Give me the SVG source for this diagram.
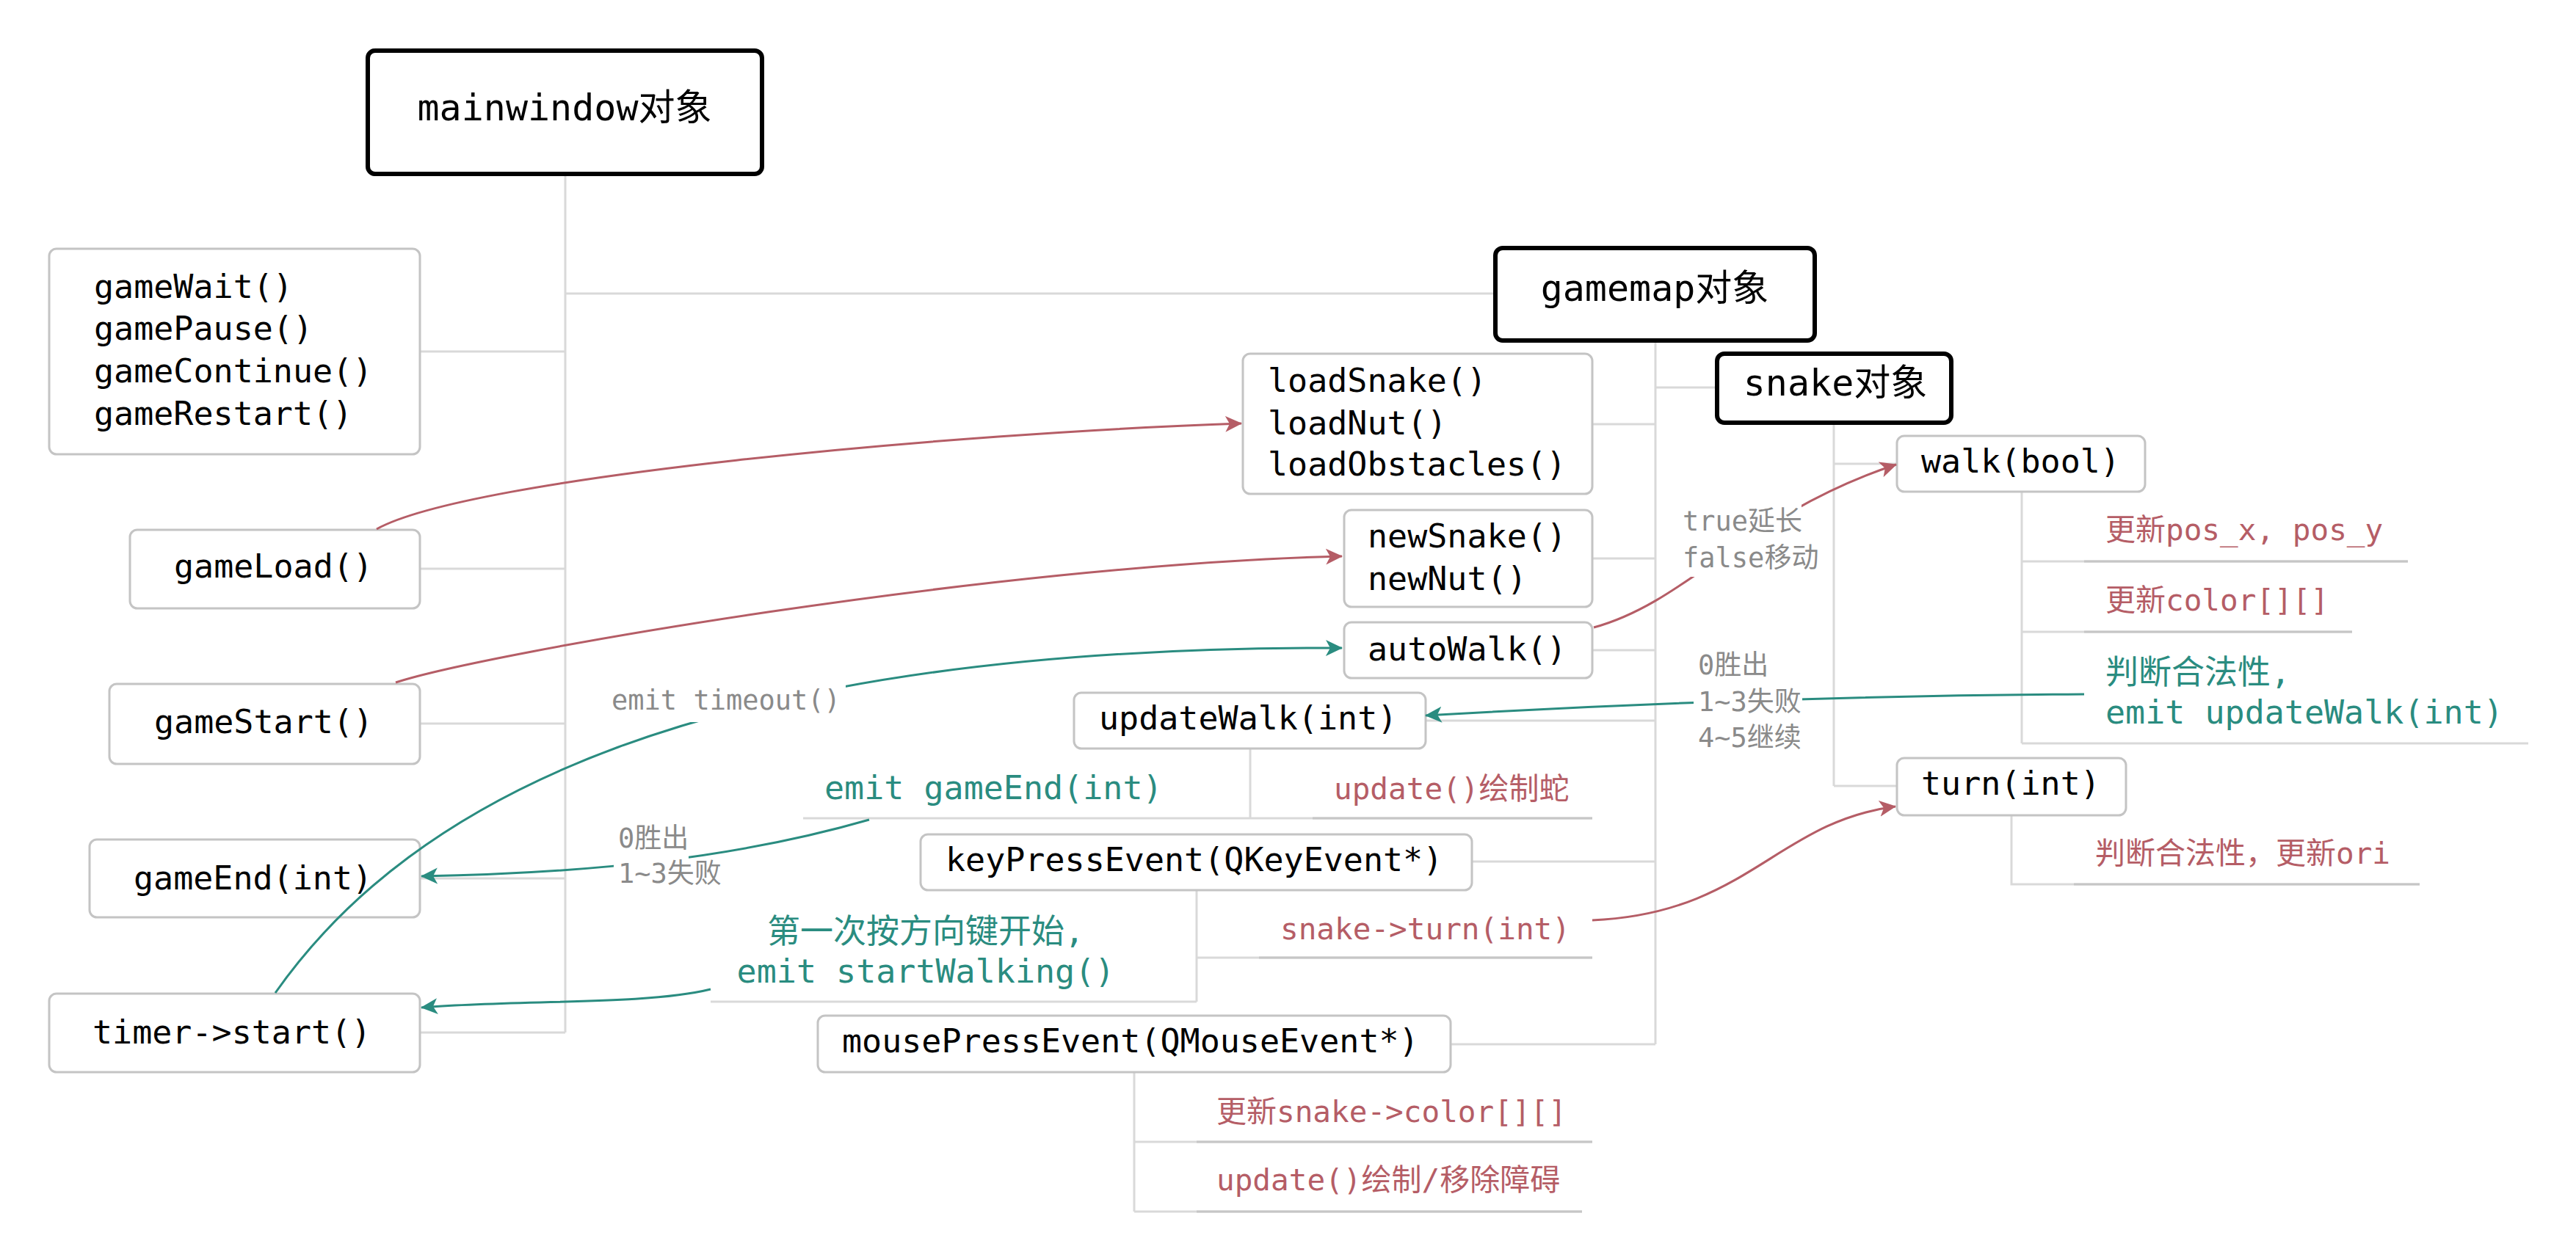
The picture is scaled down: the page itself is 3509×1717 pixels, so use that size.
<svg xmlns="http://www.w3.org/2000/svg" width="3509" height="1717" viewBox="0 0 3509 1717">
<style>
text{font-family:'DejaVu Sans Mono','Noto Sans CJK SC',monospace;}
.n{font-size:45px;fill:#000;}
.big{font-size:50px;fill:#000;}
.box{fill:#fff;stroke:#c4c4c4;stroke-width:3;}
.obox{fill:#fff;stroke:#000;stroke-width:6;}
.tree{fill:none;stroke:#d9d9d9;stroke-width:3;}
.ul{fill:none;stroke:#c6c6c6;stroke-width:3;}
.red{font-size:41px;fill:#b55d66;}
.teal{font-size:45px;fill:#2a8c80;}
.grey{font-size:37px;fill:#8a8a8a;}
.cr{fill:none;stroke:#b55d66;stroke-width:3;}
.ct{fill:none;stroke:#2a8c80;stroke-width:3;}
.bg{fill:#fff;}
</style>
<defs>
<marker id="ar" viewBox="0 0 24 24" refX="22" refY="12" markerWidth="24" markerHeight="24" markerUnits="userSpaceOnUse" orient="auto"><path d="M0,1 L23,12 L0,23 L6,12 Z" fill="#b55d66"/></marker>
<marker id="at" viewBox="0 0 24 24" refX="22" refY="12" markerWidth="24" markerHeight="24" markerUnits="userSpaceOnUse" orient="auto"><path d="M0,1 L23,12 L0,23 L6,12 Z" fill="#2a8c80"/></marker>
</defs>
<rect width="3509" height="1717" fill="#fff"/>

<g id="tree-lines">
<path class="tree" d="M770,237 V1407 M572,479 H770 M572,775 H770 M572,986 H770 M572,1197 H770 M572,1407 H770 M770,400 H2037"/>
<path class="tree" d="M2255,464 V1423 M2169,578 H2255 M2255,528 H2339 M2169,761 H2255 M2169,886 H2255 M1942,982 H2255 M2005,1174 H2255 M1976,1423 H2255"/>
<path class="tree" d="M2498,576 V1071 M2498,632 H2584 M2498,1071 H2584"/>
<path class="tree" d="M2754,670 V1013 M2754,765 H3280 M2754,861 H3204 M2754,1013 H3444"/>
<path class="ul" d="M2839,765 H3280 M2839,861 H3204"/>
<path class="tree" d="M2740,1111 V1205 H3296"/>
<path class="ul" d="M2825,1205 H3296"/>
<path class="tree" d="M1703,1020 V1115 M1094,1115 H2169"/>
<path class="ul" d="M1788,1115 H2169"/>
<path class="tree" d="M1630,1213 V1365 M968,1365 H1630 M1630,1305 H2169"/>
<path class="ul" d="M1715,1305 H2169"/>
<path class="tree" d="M1545,1461 V1651 M1545,1556 H2169 M1545,1651 H2155"/>
<path class="ul" d="M1630,1556 H2169 M1630,1651 H2155"/>
</g>

<g id="mainwindow"><rect class="obox" x="501" y="69" width="537" height="168" rx="10"/><text class="big" x="769" y="164" text-anchor="middle">mainwindow对象</text></g>
<g id="gameWait"><rect class="box" x="67" y="339" width="505" height="280" rx="10"/>
<text class="n" x="128" y="406">gameWait()</text><text class="n" x="128" y="463">gamePause()</text><text class="n" x="128" y="521">gameContinue()</text><text class="n" x="128" y="579">gameRestart()</text></g>
<g id="gameLoad"><rect class="box" x="177" y="722" width="395" height="107" rx="10"/><text class="n" x="237" y="787">gameLoad()</text></g>
<g id="gameStart"><rect class="box" x="149" y="932" width="423" height="109" rx="10"/><text class="n" x="210" y="999">gameStart()</text></g>
<g id="gameEnd"><rect class="box" x="122" y="1144" width="450" height="106" rx="10"/><text class="n" x="182" y="1212">gameEnd(int)</text></g>
<g id="timerStart"><rect class="box" x="67" y="1354" width="505" height="107" rx="10"/><text class="n" x="126" y="1422">timer-&gt;start()</text></g>

<g id="gamemap"><rect class="obox" x="2037" y="338" width="435" height="126" rx="10"/><text class="big" x="2254" y="410" text-anchor="middle">gamemap对象</text></g>
<g id="loadSnake"><rect class="box" x="1693" y="482" width="476" height="191" rx="10"/>
<text class="n" x="1727" y="534">loadSnake()</text><text class="n" x="1727" y="592">loadNut()</text><text class="n" x="1727" y="648">loadObstacles()</text></g>
<g id="newSnake"><rect class="box" x="1831" y="695" width="338" height="132" rx="10"/>
<text class="n" x="1863" y="746">newSnake()</text><text class="n" x="1863" y="804">newNut()</text></g>
<g id="autoWalk"><rect class="box" x="1831" y="848" width="338" height="76" rx="10"/><text class="n" x="1863" y="900">autoWalk()</text></g>
<g id="updateWalk"><rect class="box" x="1463" y="944" width="479" height="76" rx="10"/><text class="n" x="1497" y="994">updateWalk(int)</text></g>
<g id="keyPressEvent"><rect class="box" x="1254" y="1137" width="751" height="76" rx="10"/><text class="n" x="1288" y="1187">keyPressEvent(QKeyEvent*)</text></g>
<g id="mousePressEvent"><rect class="box" x="1114" y="1384" width="862" height="77" rx="10"/><text class="n" x="1147" y="1434">mousePressEvent(QMouseEvent*)</text></g>

<g id="snake"><rect class="obox" x="2339" y="482" width="319" height="94" rx="10"/><text class="big" x="2500" y="539" text-anchor="middle">snake对象</text></g>
<g id="walk"><rect class="box" x="2584" y="594" width="338" height="76" rx="10"/><text class="n" x="2617" y="644">walk(bool)</text></g>
<g id="turn"><rect class="box" x="2584" y="1033" width="312" height="78" rx="10"/><text class="n" x="2617" y="1083">turn(int)</text></g>

<g id="leaf-labels">
<text class="red" x="2868" y="736">更新pos_x, pos_y</text>
<text class="red" x="2868" y="832">更新color[][]</text>
<text class="teal" x="2868" y="932">判断合法性,</text>
<text class="teal" x="2868" y="986">emit updateWalk(int)</text>
<text class="red" x="2854" y="1177">判断合法性，更新ori</text>
<text class="teal" x="1123" y="1089">emit gameEnd(int)</text>
<text class="red" x="1817" y="1089">update()绘制蛇</text>
<text class="red" x="1744" y="1280">snake-&gt;turn(int)</text>
<text class="teal" x="1261" y="1285" text-anchor="middle">第一次按方向键开始,</text>
<text class="teal" x="1261" y="1339" text-anchor="middle">emit startWalking()</text>
<text class="red" x="1657" y="1529">更新snake-&gt;color[][]</text>
<text class="red" x="1657" y="1622">update()绘制/移除障碍</text>
</g>

<g id="connectors">
<path class="cr" d="M513,721 C640,650 1300,590 1691,577" marker-end="url(#ar)"/>
<path class="cr" d="M539,930 C660,890 1350,770 1828,758" marker-end="url(#ar)"/>
<path class="ct" d="M375,1353 C560,1090 950,880 1828,883" marker-end="url(#at)"/>
<path class="ct" d="M1184,1117 C1000,1170 800,1190 574,1194" marker-end="url(#at)"/>
<path class="ct" d="M968,1348 C880,1370 700,1362 574,1373" marker-end="url(#at)"/>
<path class="ct" d="M2839,946 C2500,948 2200,960 1942,975" marker-end="url(#at)"/>
<path class="cr" d="M2171,855 C2300,820 2380,700 2583,633" marker-end="url(#ar)"/>
<path class="cr" d="M2169,1254 C2380,1245 2420,1120 2582,1099" marker-end="url(#ar)"/>
</g>

<g id="connector-labels">
<rect class="bg" x="826" y="932" width="326" height="52"/>
<text class="grey" x="833" y="967">emit timeout()</text>
<rect class="bg" x="836" y="1118" width="102" height="98"/>
<text class="grey" x="842" y="1155">0胜出</text>
<text class="grey" x="842" y="1203">1~3失败</text>
<rect class="bg" x="2284" y="686" width="170" height="100"/>
<text class="grey" x="2292" y="723">true延长</text>
<text class="grey" x="2292" y="773">false移动</text>
<rect class="bg" x="2307" y="882" width="148" height="148"/>
<text class="grey" x="2313" y="919">0胜出</text>
<text class="grey" x="2313" y="969">1~3失败</text>
<text class="grey" x="2313" y="1018">4~5继续</text>
</g>
</svg>
